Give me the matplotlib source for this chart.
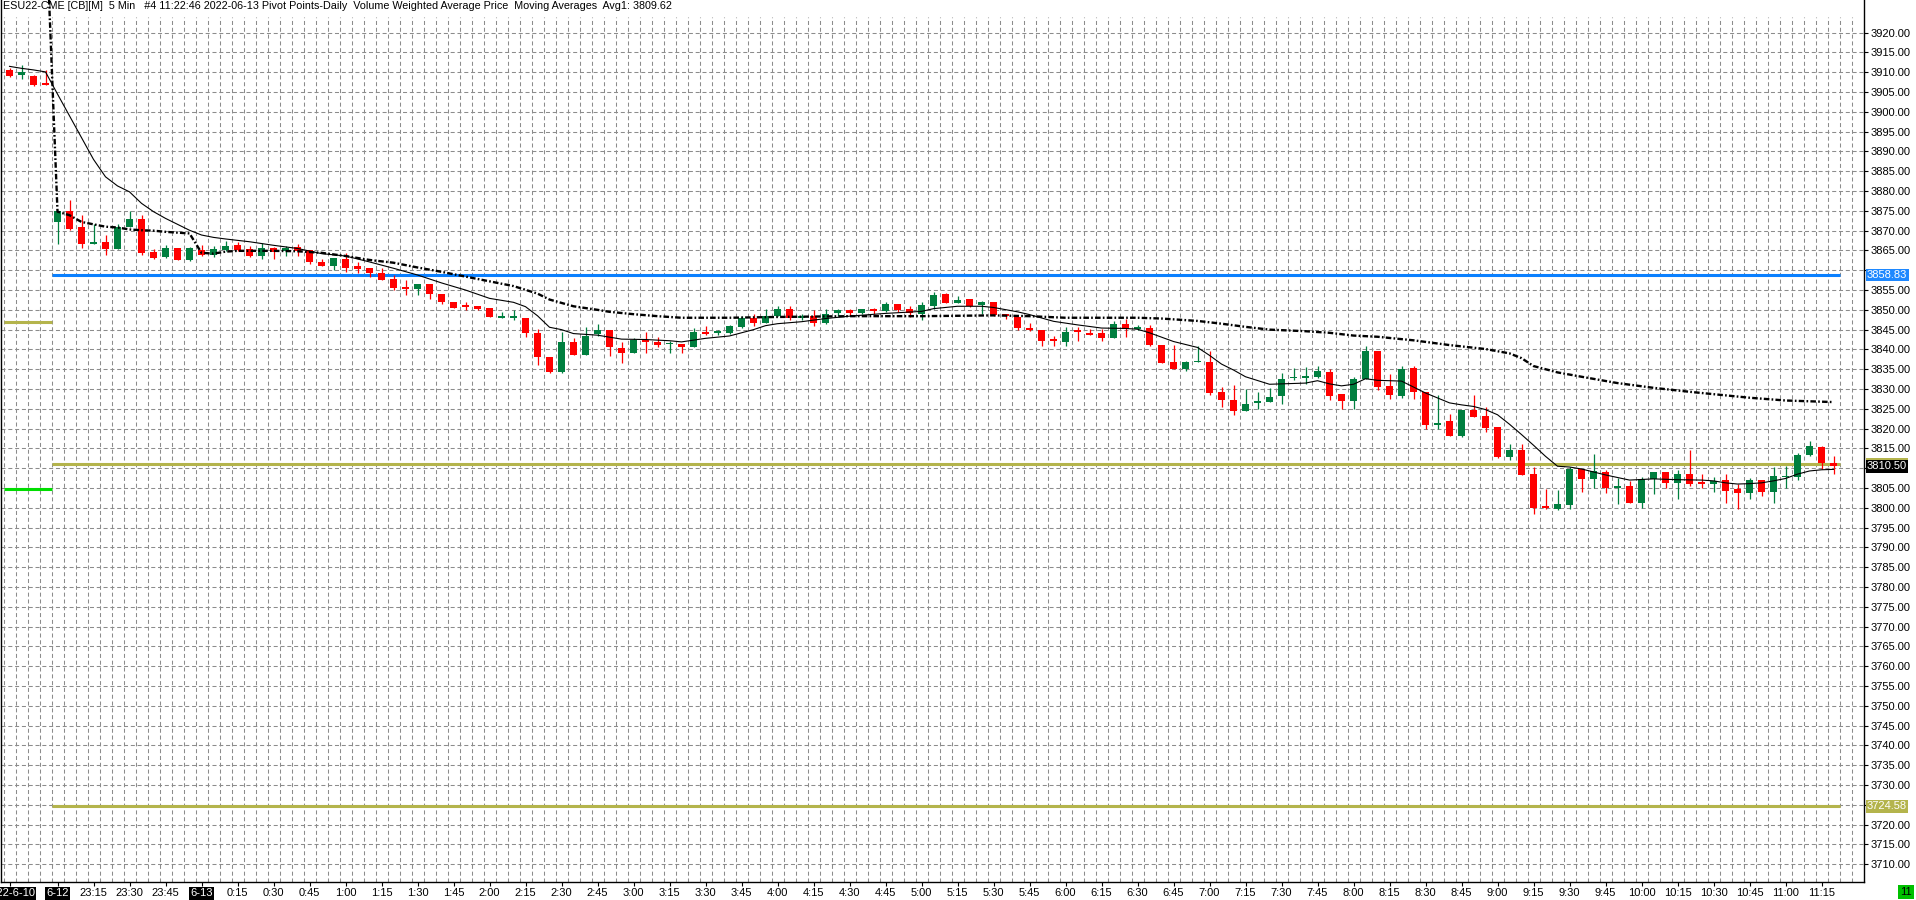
import numpy as np
import matplotlib
matplotlib.use("Agg")
import matplotlib.pyplot as plt

plt.rcParams["font.family"] = ["Liberation Sans", "DejaVu Sans"]
plt.rcParams["lines.scale_dashes"] = False

# ---- data ----
opens = [3910.5, 3909.25, 3909, 3907.25,
         3872.25, 3875, 3871, 3866.75, 3867.25, 3865.25, 3871, 3873, 3864.5, 3863.25,
         3865.5, 3862.5, 3865, 3863.75, 3865, 3866.5, 3865.25, 3863.5, 3865.5, 3864.75,
         3865.75, 3865, 3862, 3861, 3862.75, 3861, 3860.5, 3859.25, 3857.75, 3855.5,
         3855.25, 3856.5, 3854, 3852, 3851, 3851, 3850.5, 3848, 3848, 3848,
         3844.25, 3838, 3834.25, 3842, 3838.5, 3844, 3845, 3840.25, 3839, 3842.25,
         3842, 3841.25, 3841.25, 3840.5, 3844.5, 3844.25, 3844.25, 3845.75, 3848, 3846.75,
         3848.5, 3850.25, 3848, 3848.5, 3846.75, 3849.25, 3850, 3849.25, 3850, 3849.75,
         3851.5, 3850.25, 3849, 3851, 3854, 3851.75, 3852.75, 3851.25, 3852, 3848.75,
         3848.25, 3845.5, 3845, 3842.75, 3842, 3844.75, 3844.25, 3844.25, 3843, 3846.5,
         3845.25, 3845.5, 3841, 3836.75, 3835, 3836.75, 3836.75, 3829.25, 3827.25, 3824.5,
         3826.5, 3826.75, 3828.25, 3832.75, 3832.75, 3833, 3834.25, 3828.75, 3827, 3832.5,
         3839.5, 3830.75, 3828.25, 3835.25, 3829.25, 3821, 3822, 3818.25, 3824.75, 3823.25,
         3820.5, 3812.75, 3814.5, 3808.5, 3800.25, 3799.75, 3800.75, 3809.75, 3807.25, 3809,
         3805, 3805.5, 3801.25, 3807.25, 3809, 3806.25, 3808.5, 3806.5, 3806, 3807,
         3804.75, 3803.75, 3807, 3804, 3807.75, 3807.75, 3813.25, 3815.25, 3811.25]
highs = [3911, 3911.75, 3909.25, 3910.5,
         3875, 3877.75, 3874, 3871.75, 3869, 3871.75, 3875, 3874, 3865.25, 3866.5,
         3865.5, 3865.75, 3866.5, 3866.25, 3867.5, 3867.25, 3866, 3867, 3865.75, 3866,
         3866.75, 3865, 3862.75, 3863, 3864.25, 3862, 3860.5, 3860.5, 3858.75, 3857.5,
         3856.5, 3856.5, 3854, 3852, 3852, 3851, 3850.5, 3849.5, 3850, 3848,
         3845.25, 3838, 3844.5, 3843, 3845.75, 3846.5, 3845, 3842, 3843, 3844.5,
         3843.25, 3842.25, 3841.25, 3845.5, 3846, 3845, 3846.25, 3848.5, 3849, 3850.25,
         3851, 3851, 3849, 3850, 3850.25, 3850.25, 3850.25, 3850.25, 3850.5, 3852,
         3851.5, 3851, 3852, 3854.5, 3854.25, 3853.5, 3852.75, 3852.25, 3852, 3849,
         3848.25, 3846.75, 3845, 3843.5, 3845.75, 3845.75, 3845.25, 3845.25, 3847.25, 3847.75,
         3846.25, 3846.25, 3841, 3841, 3837, 3840.75, 3839.5, 3830.5, 3831, 3830,
         3829.25, 3830.25, 3834, 3835.25, 3835.5, 3835.75, 3835, 3828.75, 3833, 3840.75,
         3839.5, 3833.75, 3835.75, 3835.75, 3829.25, 3828.5, 3823.75, 3824.75, 3828.5, 3825.5,
         3820.5, 3816, 3816, 3810.25, 3804.75, 3804.5, 3810.25, 3809.75, 3813.5, 3809.5,
         3807.5, 3806.75, 3807.75, 3809, 3809, 3809.5, 3814.5, 3808.5, 3807.75, 3808.5,
         3806, 3807.5, 3807, 3810.25, 3810.5, 3813.75, 3816.75, 3815.5, 3813]
lows = [3908.75, 3908.25, 3906.5, 3906.75,
        3866.75, 3870.25, 3865.5, 3866.75, 3863.75, 3865.25, 3871, 3863.75, 3862.75, 3863,
        3862.5, 3862.25, 3863.5, 3863.25, 3864.75, 3864.75, 3863.25, 3862.75, 3862.75, 3863.5,
        3863.5, 3861.5, 3861, 3860, 3859.5, 3859.25, 3858.25, 3857.5, 3855, 3853.75,
        3853.75, 3852.75, 3851.5, 3850.5, 3850, 3850, 3848.25, 3848, 3847.5, 3843.25,
        3836, 3834, 3834, 3838.5, 3838.5, 3843.5, 3838.25, 3836.5, 3839, 3839,
        3840.5, 3839, 3839, 3840.5, 3843.75, 3843.75, 3844, 3845.5, 3846, 3846.75,
        3848.5, 3847.5, 3847.5, 3846, 3846.5, 3848.5, 3848.5, 3849, 3849, 3849.5,
        3849.5, 3848.25, 3847.5, 3850.25, 3851.75, 3851.75, 3850.75, 3849, 3848.5, 3847.75,
        3845, 3844.75, 3840.75, 3840.75, 3840.75, 3842.25, 3843.75, 3842.25, 3843, 3843.25,
        3845, 3840.75, 3836.5, 3835, 3834.5, 3836.75, 3828.5, 3825.5, 3823.5, 3824.5,
        3825, 3826.75, 3826.25, 3832.25, 3831.25, 3832.75, 3827.25, 3825, 3825, 3832.5,
        3829.75, 3827.5, 3827.75, 3827.5, 3820, 3820, 3818.25, 3818, 3823, 3819.25,
        3812.5, 3812, 3808.25, 3798.5, 3799.75, 3799.5, 3799.75, 3804, 3805, 3803.75,
        3801, 3801.25, 3800, 3803.5, 3805, 3802.25, 3805.5, 3805, 3804, 3801.25,
        3799.75, 3802.25, 3803, 3801.25, 3805, 3807, 3813, 3809.75, 3808.5]
closes = [3909, 3910, 3906.75, 3906.75,
          3875, 3870.5, 3866.75, 3867.25, 3865.25, 3871, 3873, 3864.25, 3863, 3865.5,
          3862.5, 3865.5, 3863.75, 3865.25, 3866.25, 3865, 3863.5, 3865.5, 3864.5, 3865.5,
          3864.75, 3862, 3861, 3863, 3860.5, 3860.25, 3859.25, 3857.5, 3855.5, 3855.25,
          3856.5, 3854, 3852, 3850.5, 3850.75, 3850.25, 3848.25, 3848.25, 3848.25, 3844.25,
          3838, 3834.25, 3842, 3838.5, 3843.5, 3845, 3840.5, 3839, 3842.5, 3842,
          3841, 3841.5, 3840.5, 3844.5, 3844, 3844.5, 3846, 3848, 3846.75, 3848.5,
          3850.25, 3848, 3848.25, 3846.75, 3849, 3850, 3849.25, 3850.25, 3849.75, 3851.5,
          3850, 3849.25, 3851.25, 3853.75, 3851.75, 3852.5, 3851, 3852, 3848.75, 3848.5,
          3845.5, 3845, 3842.25, 3842.25, 3844.5, 3844.5, 3843.75, 3843, 3846.5, 3845.25,
          3845.5, 3841, 3836.5, 3835, 3836.75, 3837, 3829, 3827.25, 3824.5, 3826.25,
          3826.75, 3828, 3832.5, 3833, 3833.25, 3834.5, 3828.25, 3827, 3832.5, 3839.5,
          3830.5, 3828.5, 3835, 3829.25, 3821, 3821.5, 3818.25, 3824.75, 3823, 3820.25,
          3812.75, 3814.5, 3808.25, 3800, 3800, 3801, 3809.75, 3807.25, 3809.25, 3805,
          3805.25, 3801.25, 3807.25, 3809, 3806.25, 3808.5, 3806, 3806, 3806.75, 3804.25,
          3803.75, 3807, 3804, 3808, 3808, 3813.25, 3815.5, 3811.25, 3810.5]

# moving average (thin solid) sampled at bar indices
ma_bars = [0, 1, 2, 3, 4, 5, 6, 7, 8, 9, 10, 11, 12, 13, 14, 15, 16, 17, 18, 20, 22, 24, 26,
           28, 30, 32, 34, 36, 38, 40, 41, 42, 43, 44, 45, 46, 47, 49, 51, 53, 55, 56, 58,
           60, 62, 63, 64, 66, 68, 70, 73, 76, 77, 79, 81, 82, 84, 85, 87, 89, 91, 93, 94,
           95, 97, 99, 100, 101, 102, 103, 105, 106, 108, 109, 110, 111, 112, 113, 114, 116,
           117, 118, 120, 121, 122, 123, 124, 125, 126, 127, 128, 129, 130, 131, 133, 135,
           137, 139, 141, 142, 143, 144, 145, 146, 147, 148, 149, 150, 151, 152]
ma_vals = [3911.5, 3911.0, 3910.6, 3910.1, 3904.5, 3899.0, 3893.5, 3888.0, 3883.6, 3881.3,
           3879.8, 3876.9, 3874.8, 3873.1, 3871.6, 3870.1, 3868.9, 3868.3, 3867.9, 3867.2,
           3866.3, 3865.5, 3864.2, 3863.6, 3862.1, 3860.5, 3858.8, 3856.8, 3855.0, 3852.9,
           3852.4, 3851.9, 3850.8, 3848.5, 3845.6, 3845.0, 3844.0, 3843.6, 3842.6, 3842.5,
           3842.2, 3841.9, 3842.8, 3843.4, 3845.0, 3846.0, 3846.5, 3847.0, 3847.8, 3848.4,
           3849.1, 3849.6, 3850.3, 3850.9, 3850.9, 3850.6, 3849.5, 3848.8, 3847.1, 3846.2,
           3845.4, 3845.3, 3845.1, 3844.2, 3842.0, 3840.5, 3838.5, 3836.3, 3834.8, 3833.1,
           3831.2, 3831.3, 3831.5, 3832.1, 3831.3, 3830.8, 3831.2, 3832.6, 3832.2, 3832.0,
           3830.5, 3829.0, 3826.5, 3826.0, 3825.6, 3824.8, 3823.5, 3821.1, 3818.5, 3815.8,
           3813.0, 3810.5, 3810.3, 3809.8, 3808.3, 3807.0, 3807.3, 3807.1, 3807.0, 3806.8,
           3806.3, 3806.0, 3806.1, 3806.3, 3806.8, 3807.4, 3808.5, 3809.3, 3809.6, 3809.7]

# VWAP (dash-dot) sampled at bar indices, first point is off the top of the chart
vwap_bars = [3, 4, 5, 6, 7, 8, 9, 10, 11, 12, 13, 14, 15, 16, 17, 18, 19, 22, 24, 26, 28,
             30, 32, 34, 36, 38, 40, 42, 44, 45, 47, 49, 50, 52, 54, 56, 60, 64, 70, 76,
             82, 85, 88, 94, 96, 99, 101, 103, 105, 108, 110, 112, 114, 117, 120, 123, 125,
             126, 127, 129, 131, 134, 137, 140, 142, 145, 148, 152]
vwap_vals = [3951.0, 3874.8, 3873.9, 3872.2, 3871.6, 3871.0, 3870.8, 3870.3, 3870.1, 3870.0,
             3869.7, 3869.5, 3869.3, 3864.4, 3864.2, 3864.7, 3864.9, 3864.9, 3864.8, 3864.4,
             3863.6, 3862.6, 3861.9, 3860.7, 3859.6, 3858.4, 3857.2, 3856.0, 3854.1, 3852.6,
             3850.9, 3850.0, 3849.5, 3848.9, 3848.4, 3848.0, 3848.0, 3848.2, 3848.4, 3848.4,
             3848.6, 3848.4, 3848.0, 3848.0, 3847.8, 3847.2, 3846.5, 3845.7, 3845.0, 3844.6,
             3844.2, 3843.5, 3843.2, 3842.3, 3841.1, 3840.1, 3839.0, 3837.8, 3835.8, 3834.2,
             3833.1, 3831.5, 3830.3, 3829.3, 3828.7, 3827.8, 3827.1, 3826.7]

# pivot levels
r1_level = 3858.83
pp_level = 3811.0
s1_level = 3724.58
last_price = 3810.50
prev_pp_level = 3847.0
prev_s1_level = 3804.7

x_tick_labels = ["2022-6-10", "6-12", "23:15", "23:30", "23:45", "6-13",
                 "0:15", "0:30", "0:45", "1:00", "1:15", "1:30", "1:45", "2:00",
                 "2:15", "2:30", "2:45", "3:00", "3:15", "3:30", "3:45", "4:00",
                 "4:15", "4:30", "4:45", "5:00", "5:15", "5:30", "5:45", "6:00",
                 "6:15", "6:30", "6:45", "7:00", "7:15", "7:30", "7:45", "8:00",
                 "8:15", "8:30", "8:45", "9:00", "9:15", "9:30", "9:45", "10:00",
                 "10:15", "10:30", "10:45", "11:00", "11:15"]

title = ("ESU22-CME [CB][M]  5 Min   #4 11:22:46 2022-06-13 Pivot Points-Daily  "
         "Volume Weighted Average Price  Moving Averages  Avg1: 3809.62")

# ---- figure ----
W, H = 1916, 900
fig = plt.figure(figsize=(W / 100, H / 100), dpi=100)
fig.patch.set_facecolor("white")
ax = fig.add_axes([1 / W, 18 / H, 1863 / W, 882 / H])

n = len(opens)
bars = np.arange(n)
x0, x1 = (1 - 9.5) / 12, (1864 - 9.5) / 12
y0, y1 = 3705.48, 3928.26
ax.set_xlim(x0, x1)
ax.set_ylim(y0, y1)

grid_kw = dict(colors="#8c8c8c", linewidth=0.75, linestyles=(0, (2.9, 2.0)), zorder=0)
y_ticks = np.arange(3710, 3921, 5)
ax.hlines(y_ticks, x0, x1, **grid_kw)
ax.vlines(np.arange(0, 155) - 0.42, y0, 3924, **grid_kw)

# pivot lines
ax.hlines(r1_level, 3.55, 152.5, color="#0a80ff", lw=2.2, zorder=1)
ax.hlines(pp_level, 3.55, 152.5, color="#b4b44c", lw=2.2, zorder=1)
ax.hlines(s1_level, 3.55, 152.5, color="#b4b44c", lw=2.2, zorder=1)
ax.hlines(prev_pp_level, -0.45, 3.55, color="#b4b44c", lw=2.2, zorder=1)
ax.hlines(prev_s1_level, -0.45, 3.55, color="#00dd00", lw=2.2, zorder=1)

# candles
o, h, l, c = map(np.array, (opens, highs, lows, closes))
cols = np.where(c >= o, "#007f3f", "#ff0000")
ax.vlines(bars, l, h, colors=cols, lw=0.9, zorder=2)
body_lo = np.minimum(o, c)
body_h = np.maximum(np.abs(c - o), 0.4)
ax.bar(bars, body_h, bottom=body_lo, width=0.58, color=cols, lw=0, zorder=3)

# indicators
ax.plot(ma_bars, ma_vals, color="black", lw=0.8, zorder=4)
ax.plot(vwap_bars, vwap_vals, color="black", lw=1.7, zorder=4,
        dashes=(4.0, 1.6, 1.2, 1.6))

# axes styling
for side in ("left", "right", "bottom"):
    ax.spines[side].set_color("black")
    ax.spines[side].set_linewidth(1.0)
ax.spines["top"].set_visible(False)

hidden = {3860, 3810, 3725}
ax.set_yticks(y_ticks)
ax.set_yticklabels(["" if v in hidden else f"{v:.2f}" for v in y_ticks])
ax.yaxis.tick_right()
ax.tick_params(axis="y", direction="out", length=3, width=0.8, pad=1.5,
               labelsize=8, colors="black")

x_ticks = [0] + list(range(4, n, 3))
ax.set_xticks(x_ticks)
ax.set_xticklabels(x_tick_labels)
ax.tick_params(axis="x", direction="out", length=3, width=0.8, pad=1.5,
               labelsize=8, colors="black")
for t in ax.get_xticklabels():
    if "-" in t.get_text():
        t.set_color("white")
        t.set_bbox(dict(boxstyle="square,pad=0.12", fc="black", ec="none"))

# price labels on the axis
def axis_label(price, text, fc, tc="white", z=5):
    ax.annotate(text, xy=(1, price), xycoords=("axes fraction", "data"),
                xytext=(3, 0), textcoords="offset pixels", ha="left", va="center",
                fontsize=8, color=tc, annotation_clip=False, zorder=z,
                bbox=dict(boxstyle="square,pad=0.12", fc=fc, ec="none"))

axis_label(r1_level, "3858.83", "#1e88ff")
axis_label(pp_level, "3811.00", "#b4b44c", tc="#b4b44c", z=5)
axis_label(last_price, "3810.50", "black", z=6)
axis_label(s1_level, "3724.58", "#b4b44c")

fig.text(3 / W, 1 - 1 / H, title, ha="left", va="top", fontsize=7.75, color="black")
fig.text(1906 / W, 1 - 892 / H, "11", ha="center", va="center", fontsize=8,
         color="black", bbox=dict(boxstyle="square,pad=0.2", fc="#00c000", ec="none"))

fig.savefig("out.png", dpi=100)
